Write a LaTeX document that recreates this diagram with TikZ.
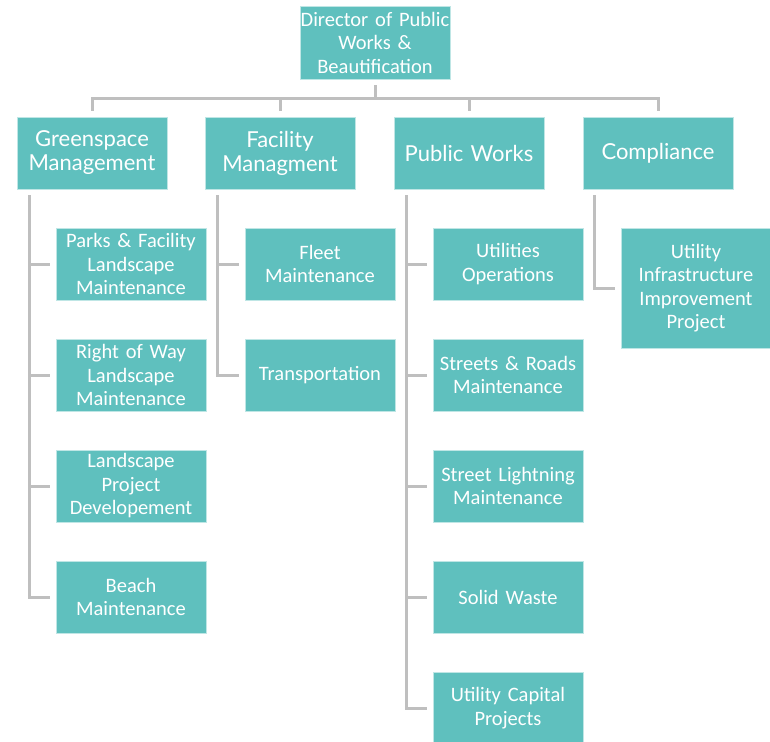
\documentclass[tikz,border=0pt]{standalone}
\usepackage{fontspec}
\setmainfont{Carlito}
\newfontfamily\headfont{Lato}
\usetikzlibrary{calc}
\definecolor{teal1}{RGB}{95,192,190}
\definecolor{linkgray}{RGB}{191,191,191}
\tikzset{
  unitbox/.style={rectangle, fill=teal1, draw=white!60!teal1, line width=0.8pt,
    text=white, align=center, inner sep=0pt,
    minimum width=150pt, minimum height=72pt, text width=149pt,
    font=\fontsize{20.5}{23.5}\selectfont},
  headbox/.style={unitbox, font=\headfont\fontsize{22}{24}\selectfont},
  conn/.style={draw=linkgray, line width=3pt, line join=miter,
    shorten <=6pt, shorten >=6pt}
}
\begin{document}
\begin{tikzpicture}[x=1pt, y=-1pt]
\useasboundingbox[fill=white] (0,0) rectangle (770,741);

% top of the hierarchy
\node[unitbox, minimum height=73pt] (dir) at (375,42.5) {Director of Public\\Works \&\\Beautification};

% divisions
\node[headbox] (gm) at (92,153)  {Greenspace\\Management};
\node[headbox] (fm) at (280,153) {Facility\\Managment};
\node[headbox] (pw) at (469,153) {Public Works};
\node[headbox] (co) at (658,153) {Compliance};

% Greenspace units
\node[unitbox] (g1) at (131,264) {Parks \& Facility\\Landscape\\Maintenance};
\node[unitbox] (g2) at (131,375) {Right of Way\\Landscape\\Maintenance};
\node[unitbox] (g3) at (131,486) {Landscape\\Project\\Developement};
\node[unitbox] (g4) at (131,597) {Beach\\Maintenance};

% Facility units
\node[unitbox] (f1) at (320,264) {Fleet\\Maintenance};
\node[unitbox] (f2) at (320,375) {Transportation};

% Public Works units
\node[unitbox] (p1) at (508,264) {Utilities\\Operations};
\node[unitbox] (p2) at (508,375) {Streets \& Roads\\Maintenance};
\node[unitbox] (p3) at (508,486) {Street Lightning\\Maintenance};
\node[unitbox] (p4) at (508,597) {Solid Waste};
\node[unitbox] (p5) at (508,708) {Utility Capital\\Projects};

% Compliance unit
\node[unitbox, minimum height=120pt] (c1) at (696,288) {Utility\\Infrastructure\\Improvement\\Project};

% director to divisions
\foreach \d in {gm,fm,pw,co}
  \draw[conn] (dir.south) -- ++(0,19) -| (\d.north);

% divisions to units
\foreach \u in {g1,g2,g3,g4}
  \draw[conn] ($(gm.south west)+(13,0)$) |- (\u.west);
\foreach \u in {f1,f2}
  \draw[conn] ($(fm.south west)+(13,0)$) |- (\u.west);
\foreach \u in {p1,p2,p3,p4,p5}
  \draw[conn] ($(pw.south west)+(13,0)$) |- (\u.west);
\draw[conn] ($(co.south west)+(12,0)$) |- (c1.west);
\end{tikzpicture}
\end{document}
